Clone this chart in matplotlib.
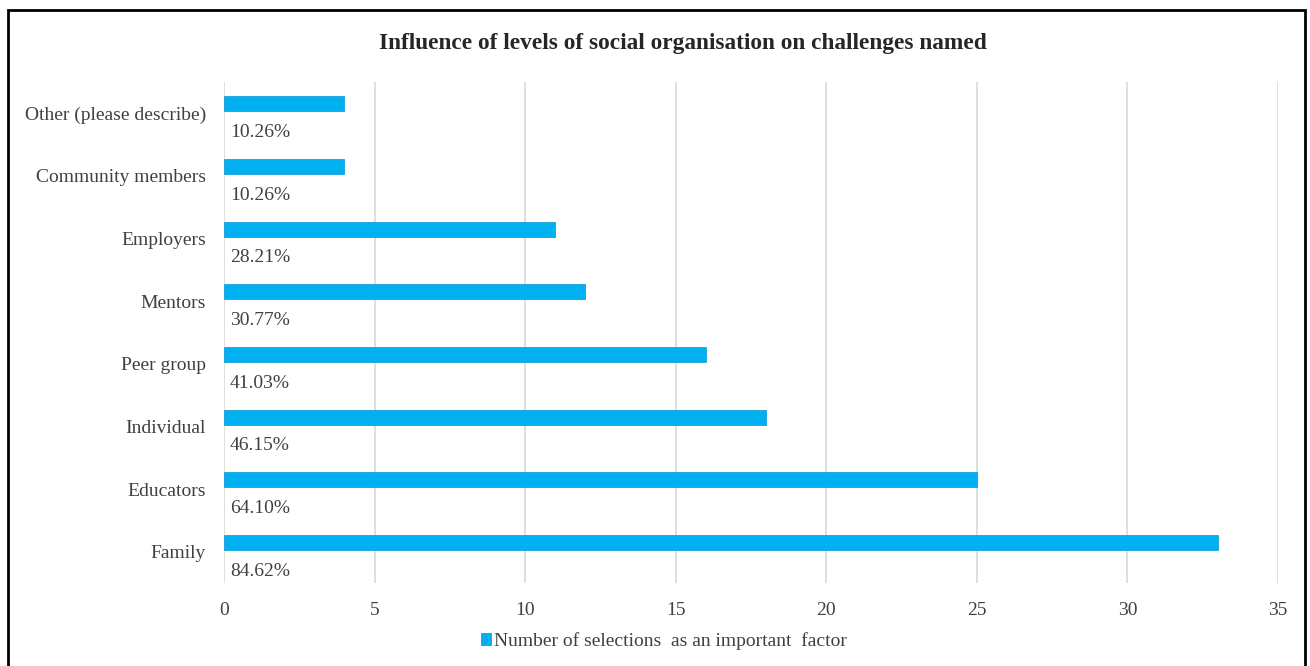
import matplotlib.pyplot as plt
import numpy as np
from matplotlib.patches import Rectangle

plt.rcParams['font.family'] = ['Liberation Serif', 'DejaVu Serif']

categories = ["Family", "Educators", "Individual", "Peer group", "Mentors",
              "Employers", "Community members", "Other (please describe)"]
counts = [33, 25, 18, 16, 12, 11, 4, 4]
shares = ["84.62%", "64.10%", "46.15%", "41.03%", "30.77%", "28.21%", "10.26%", "10.26%"]

bar_color = "#00B0F0"
text_color = "#404040"

fig = plt.figure(figsize=(13.1, 6.66), dpi=100)
ax = fig.add_axes([224/1310, 1 - 583/666, (1278-224)/1310, (583-82)/666])

y = np.arange(len(categories))
ax.barh(y + 0.15, counts, height=0.24, color=bar_color, edgecolor="#1a9fd6",
        linewidth=0.6, zorder=3, label="Number of selections  as an important  factor")

for yi, s in zip(y, shares):
    ax.text(0.2, yi - 0.31, s, va="center", ha="left", fontsize=14, color=text_color)

ax.set_xlim(0, 35)
ax.set_ylim(-0.5, len(categories) - 0.5)
ax.set_xticks(np.arange(0, 36, 5))
ax.set_yticks(y)
ax.set_yticklabels(categories)
ax.tick_params(axis="both", length=0, labelsize=14, colors=text_color)
ax.tick_params(axis="x", pad=14)
ax.tick_params(axis="y", pad=13)
ax.xaxis.grid(True, color="#d9d9d9", linewidth=1.2, zorder=0)
for sp in ax.spines.values():
    sp.set_visible(False)

fig.text(0.5215, 1 - 43/666, "Influence of levels of social organisation on challenges named",
         ha="center", va="center", fontsize=16.8, fontweight="bold", color="#262626")

leg = fig.legend(loc="center left", bbox_to_anchor=(463/1310, 1 - 641/666), frameon=False,
                 fontsize=14, handlelength=0.55, handleheight=0.55, handletextpad=0.15)
for t in leg.get_texts():
    t.set_color(text_color)

# outer frame
fig.patches.append(Rectangle((8/1310, -0.01), (1305-8)/1310, 1 - 10/666 + 0.01,
                             transform=fig.transFigure, fill=False, edgecolor="black",
                             linewidth=2))

fig.savefig("out.png", dpi=100)
